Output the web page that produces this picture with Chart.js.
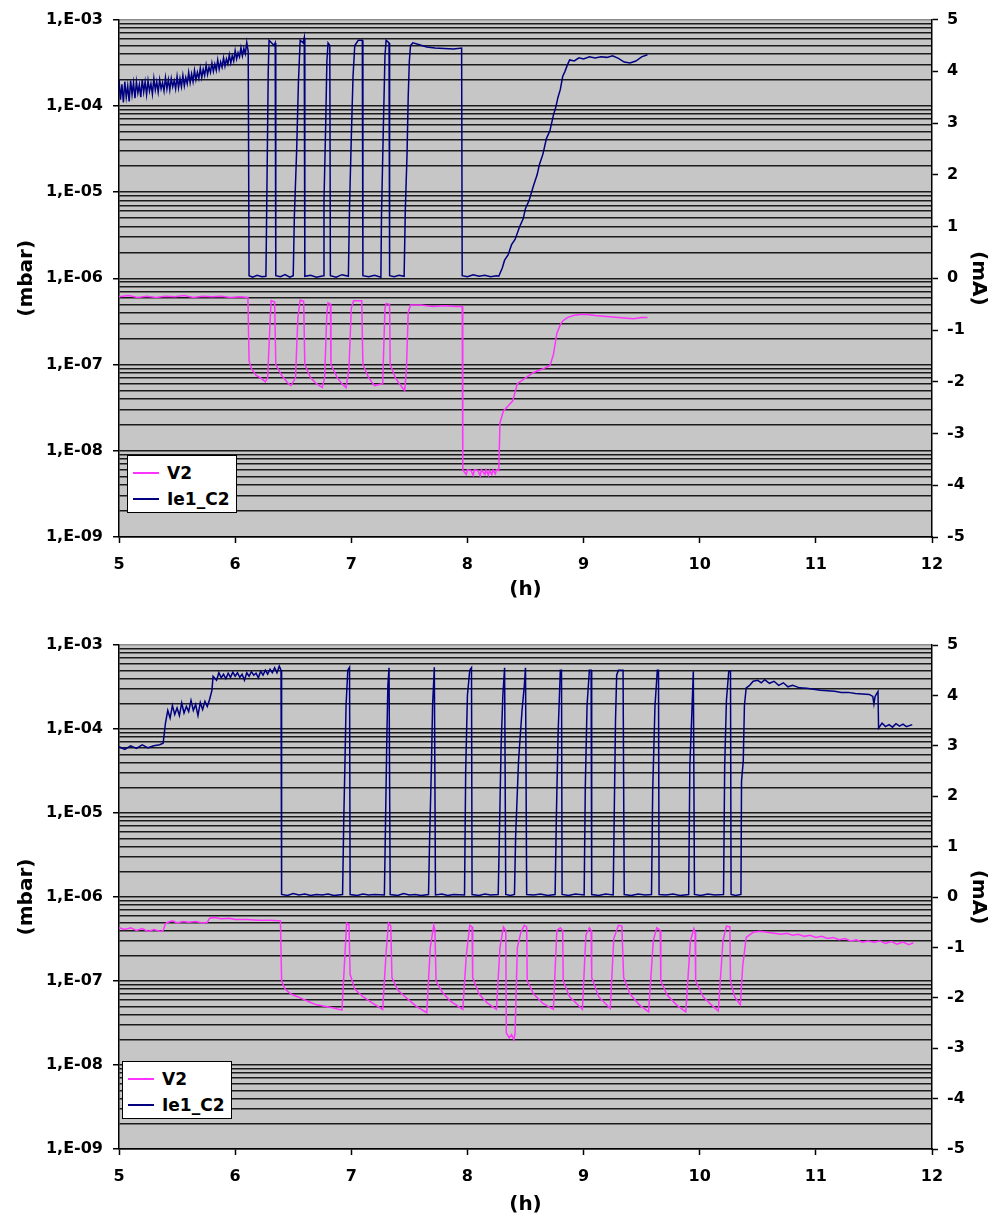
<!DOCTYPE html>
<html>
<head>
<meta charset="utf-8">
<title>V2 / Ie1_C2</title>
<script src="https://cdn.jsdelivr.net/npm/chart.js@4.4.1/dist/chart.umd.min.js"></script>
<style>
  body { margin: 0; background: #fff; }
  .panel { position: absolute; left: 0; width: 997px; height: 610px; }
  .legend {
    position: absolute; box-sizing: border-box; width: 110px; height: 58px;
    background: #fff; border: 1px solid #000; padding: 4px 0 0 5px;
    font: bold 17px "DejaVu Sans", sans-serif; color: #000;
  }
  .legend .row { height: 26px; display: flex; align-items: center; }
  .legend .swatch { width: 26px; height: 2px; margin-right: 8px; }
</style>
</head>
<body>
<div class="panel" style="top:0">
  <canvas id="topChart" width="997" height="610"></canvas>
  <div class="legend" style="left:127px; top:455px;">
    <div class="row"><span class="swatch" style="background:#FF33FF"></span>V2</div>
    <div class="row"><span class="swatch" style="background:#000080"></span>Ie1_C2</div>
  </div>
</div>
<div class="panel" style="top:610px">
  <canvas id="bottomChart" width="997" height="610"></canvas>
  <div class="legend" style="left:122px; top:451px;">
    <div class="row"><span class="swatch" style="background:#FF33FF"></span>V2</div>
    <div class="row"><span class="swatch" style="background:#000080"></span>Ie1_C2</div>
  </div>
</div>

<script>
// ------------------------------------------------------------
// Data: [hours, value]
// V2 in mbar (left, log), Ie1_C2 in mA (right, linear)
// ------------------------------------------------------------
const decadeExps = [-9, -8, -7, -6, -5, -4, -3];
const significands = [1, 2, 3, 4, 5, 6, 7, 8, 9];
const hourTicks = [5, 6, 7, 8, 9, 10, 11, 12];

const topV2 = [
  [5.00, 6.1e-7], [5.08, 6.3e-7], [5.16, 6.0e-7], [5.24, 6.2e-7], [5.32, 6.0e-7], [5.40, 6.2e-7],
  [5.48, 6.1e-7], [5.56, 6.3e-7], [5.64, 6.0e-7], [5.72, 6.2e-7], [5.80, 6.1e-7], [5.88, 6.2e-7],
  [5.96, 6.0e-7], [6.04, 6.1e-7], [6.11, 6.0e-7],
  [6.12, 1.1e-7], [6.14, 9e-8], [6.18, 7.5e-8], [6.22, 7e-8], [6.26, 6.3e-8], [6.28, 7e-8],
  [6.30, 3e-7], [6.31, 5.5e-7], [6.34, 5.3e-7],
  [6.35, 1.0e-7], [6.40, 7.5e-8], [6.45, 6.2e-8], [6.48, 5.7e-8], [6.52, 7e-8], [6.54, 3.5e-7],
  [6.56, 5.6e-7], [6.59, 5.4e-7],
  [6.60, 1.0e-7], [6.65, 7e-8], [6.70, 6e-8], [6.75, 5.4e-8], [6.77, 7e-8], [6.79, 4e-7],
  [6.80, 5.2e-7], [6.82, 5.0e-7],
  [6.825, 1.0e-7], [6.88, 7e-8], [6.92, 6e-8], [6.955, 5.4e-8], [6.98, 9e-8], [7.00, 4.5e-7],
  [7.02, 5.5e-7], [7.09, 5.5e-7],
  [7.10, 1.0e-7], [7.15, 7e-8], [7.20, 5.7e-8], [7.27, 6e-8], [7.29, 4.5e-7], [7.30, 5.1e-7], [7.33, 5.0e-7],
  [7.335, 1.0e-7], [7.38, 7e-8], [7.43, 5.6e-8], [7.46, 5.0e-8], [7.475, 9e-8], [7.49, 4e-7],
  [7.51, 4.9e-7], [7.60, 4.9e-7], [7.70, 4.7e-7], [7.80, 4.8e-7], [7.90, 4.7e-7], [7.955, 4.7e-7],
  [7.96, 6.0e-9], [7.99, 5.3e-9], [8.00, 6.0e-9], [8.03, 5.9e-9], [8.05, 5.2e-9], [8.06, 6.0e-9],
  [8.09, 5.9e-9], [8.11, 5.1e-9], [8.12, 6.0e-9], [8.15, 5.3e-9], [8.16, 6.0e-9], [8.18, 5.2e-9],
  [8.19, 5.9e-9], [8.21, 5.3e-9], [8.22, 6.0e-9], [8.24, 5.4e-9], [8.25, 6.0e-9], [8.27, 5.9e-9],
  [8.28, 2.1e-8], [8.31, 2.9e-8], [8.35, 3.3e-8], [8.39, 3.8e-8], [8.43, 6e-8], [8.50, 7e-8],
  [8.57, 8.1e-8], [8.64, 8.8e-8], [8.71, 9.7e-8], [8.74, 1.3e-7], [8.77, 2.3e-7], [8.80, 2.9e-7],
  [8.82, 3.2e-7], [8.86, 3.5e-7], [8.91, 3.7e-7], [8.97, 3.8e-7], [9.03, 3.8e-7], [9.10, 3.7e-7],
  [9.20, 3.6e-7], [9.30, 3.5e-7], [9.43, 3.4e-7], [9.50, 3.5e-7], [9.55, 3.5e-7],
];

const topIe = [
  [5.0000, 3.85], [5.0125, 3.45], [5.0250, 3.75], [5.0375, 3.40], [5.0500, 3.80], [5.0625, 3.50],
  [5.0750, 3.72], [5.0875, 3.42], [5.1000, 3.82], [5.1125, 3.55], [5.1250, 3.78], [5.1375, 3.48],
  [5.1500, 3.80], [5.1625, 3.58], [5.1750, 3.74], [5.1875, 3.50], [5.2000, 3.84], [5.2125, 3.60],
  [5.2250, 3.80], [5.2375, 3.55], [5.2500, 3.82], [5.2625, 3.62], [5.2750, 3.76], [5.2875, 3.56],
  [5.3000, 3.86], [5.3125, 3.64], [5.3250, 3.80], [5.3375, 3.60], [5.3500, 3.84], [5.3625, 3.66],
  [5.3750, 3.78], [5.3875, 3.62], [5.4000, 3.88], [5.4125, 3.66], [5.4250, 3.84], [5.4375, 3.64],
  [5.4500, 3.86], [5.4625, 3.70], [5.4750, 3.82], [5.4875, 3.66], [5.5000, 3.90], [5.5125, 3.68],
  [5.5250, 3.86], [5.5375, 3.70], [5.5500, 3.92], [5.5625, 3.72], [5.5750, 3.88], [5.5875, 3.76],
  [5.6000, 3.98], [5.6125, 3.78], [5.6250, 3.95], [5.6375, 3.80], [5.6500, 4.02], [5.6625, 3.84],
  [5.6750, 3.98], [5.6875, 3.86], [5.7000, 4.06], [5.7125, 3.88], [5.7250, 4.04], [5.7375, 3.92],
  [5.7500, 4.12], [5.7625, 3.94], [5.7750, 4.08], [5.7875, 3.98], [5.8000, 4.16], [5.8125, 4.00],
  [5.8250, 4.14], [5.8375, 4.02], [5.8500, 4.22], [5.8625, 4.04], [5.8750, 4.18], [5.8875, 4.08],
  [5.9000, 4.26], [5.9125, 4.10], [5.9250, 4.24], [5.9375, 4.14], [5.9500, 4.32], [5.9625, 4.16],
  [5.9750, 4.30], [5.9875, 4.20], [6.0000, 4.40], [6.0125, 4.24], [6.0250, 4.36], [6.0375, 4.28],
  [6.0500, 4.46], [6.0625, 4.30], [6.0750, 4.44], [6.0875, 4.34], [6.1000, 4.56], [6.1125, 4.38],
  [6.120, 0.05], [6.15, 0.02], [6.19, 0.06], [6.23, 0.03], [6.265, 0.04],
  [6.270, 1.0], [6.278, 2.6], [6.285, 4.0], [6.292, 4.6], [6.335, 4.5], [6.345, 4.55],
  [6.350, 0.05], [6.39, 0.03], [6.43, 0.07], [6.47, 0.02], [6.50, 0.05],
  [6.51, 1.2], [6.53, 2.5], [6.545, 3.8], [6.56, 4.6], [6.585, 4.55], [6.595, 4.65],
  [6.600, 0.04], [6.65, 0.06], [6.70, 0.02], [6.76, 0.05],
  [6.765, 1.5], [6.78, 3.0], [6.79, 4.2], [6.80, 4.55], [6.815, 4.5],
  [6.820, 0.05], [6.87, 0.02], [6.92, 0.07], [6.975, 0.04],
  [6.985, 1.4], [7.00, 2.7], [7.015, 3.9], [7.03, 4.5], [7.06, 4.6], [7.095, 4.6],
  [7.100, 0.05], [7.15, 0.03], [7.20, 0.06], [7.255, 0.02],
  [7.26, 1.2], [7.275, 2.8], [7.29, 4.3], [7.30, 4.6], [7.325, 4.55],
  [7.330, 0.05], [7.37, 0.03], [7.41, 0.06], [7.455, 0.04],
  [7.465, 1.3], [7.48, 2.4], [7.49, 3.5], [7.50, 4.2], [7.51, 4.5], [7.53, 4.55], [7.58, 4.52],
  [7.65, 4.47], [7.72, 4.45], [7.80, 4.44], [7.88, 4.43], [7.95, 4.45],
  [7.955, 0.05], [8.00, 0.03], [8.05, 0.07], [8.10, 0.04], [8.15, 0.06], [8.20, 0.03], [8.25, 0.05], [8.27, 0.04],
  [8.30, 0.2], [8.32, 0.35], [8.35, 0.45], [8.38, 0.65], [8.41, 0.75], [8.45, 1.0], [8.48, 1.15],
  [8.50, 1.35], [8.53, 1.5], [8.57, 1.8], [8.60, 2.0], [8.62, 2.2], [8.65, 2.4], [8.68, 2.7],
  [8.71, 2.85], [8.74, 3.15], [8.76, 3.3], [8.78, 3.5], [8.80, 3.65], [8.82, 3.9], [8.84, 4.0],
  [8.86, 4.12], [8.88, 4.22],
  [8.92, 4.2], [8.96, 4.26], [9.00, 4.24], [9.05, 4.28], [9.10, 4.26], [9.15, 4.28], [9.20, 4.27],
  [9.25, 4.3], [9.30, 4.25], [9.35, 4.18], [9.40, 4.16], [9.45, 4.2], [9.50, 4.28], [9.55, 4.32],
];

const bottomV2 = [
  [5.00, 4.3e-7], [5.05, 4.1e-7], [5.10, 4.3e-7], [5.15, 4.0e-7], [5.20, 4.2e-7], [5.25, 3.9e-7],
  [5.30, 4.1e-7], [5.36, 3.9e-7], [5.38, 4.0e-7], [5.40, 4.8e-7], [5.42, 5.0e-7], [5.46, 5.2e-7],
  [5.50, 4.9e-7], [5.55, 5.1e-7], [5.60, 5.0e-7], [5.66, 5.1e-7], [5.72, 4.9e-7], [5.76, 5.0e-7],
  [5.78, 5.6e-7], [5.82, 5.7e-7], [5.88, 5.5e-7], [5.95, 5.6e-7], [6.00, 5.4e-7], [6.10, 5.4e-7],
  [6.20, 5.3e-7], [6.30, 5.3e-7], [6.39, 5.2e-7],
  [6.40, 1.0e-7], [6.43, 8.0e-8], [6.48, 7.0e-8], [6.56, 6.3e-8], [6.63, 5.7e-8], [6.70, 5.2e-8],
  [6.77, 5.0e-8], [6.84, 4.8e-8], [6.92, 4.5e-8],
  [6.94, 1.5e-7], [6.96, 4.9e-7], [6.98, 4.7e-7],
  [6.99, 1.2e-7], [7.03, 8.0e-8], [7.10, 6.5e-8], [7.18, 5.5e-8], [7.27, 4.6e-8],
  [7.30, 2.2e-7], [7.32, 4.9e-7], [7.34, 4.5e-7],
  [7.35, 1.1e-7], [7.40, 7.8e-8], [7.48, 6.2e-8], [7.56, 5.0e-8], [7.65, 4.2e-8],
  [7.68, 2.5e-7], [7.71, 4.6e-7], [7.72, 4.0e-7],
  [7.73, 1.0e-7], [7.78, 7.5e-8], [7.85, 5.8e-8], [7.96, 4.6e-8],
  [7.99, 2.0e-7], [8.02, 4.6e-7], [8.04, 4.4e-7],
  [8.045, 1.1e-7], [8.10, 7.0e-8], [8.17, 5.5e-8], [8.25, 4.6e-8],
  [8.28, 2.5e-7], [8.31, 4.4e-7], [8.33, 4.0e-7],
  [8.335, 2.4e-8], [8.36, 2.1e-8], [8.38, 2.3e-8], [8.40, 2.0e-8], [8.41, 2.4e-8],
  [8.43, 2.5e-7], [8.46, 3.8e-7], [8.49, 4.6e-7], [8.51, 4.4e-7],
  [8.515, 1.0e-7], [8.57, 7.0e-8], [8.65, 5.4e-8], [8.74, 4.6e-8],
  [8.77, 4.0e-7], [8.80, 4.3e-7], [8.82, 4.0e-7],
  [8.825, 1.0e-7], [8.88, 6.5e-8], [8.99, 4.6e-8],
  [9.02, 3.5e-7], [9.05, 4.3e-7], [9.065, 4.0e-7],
  [9.07, 1.1e-7], [9.13, 6.5e-8], [9.23, 4.7e-8],
  [9.26, 3.2e-7], [9.30, 4.6e-7], [9.33, 4.5e-7],
  [9.345, 1.1e-7], [9.40, 7.0e-8], [9.48, 5.2e-8], [9.56, 4.3e-8],
  [9.60, 3.0e-7], [9.63, 4.3e-7], [9.66, 4.0e-7],
  [9.665, 1.0e-7], [9.72, 6.8e-8], [9.80, 5.2e-8], [9.88, 4.3e-8],
  [9.92, 3.0e-7], [9.95, 4.2e-7], [9.96, 3.8e-7],
  [9.965, 1.0e-7], [10.03, 6.5e-8], [10.10, 5.2e-8], [10.16, 4.4e-8],
  [10.20, 3.0e-7], [10.23, 4.5e-7], [10.26, 4.4e-7],
  [10.265, 1.0e-7], [10.30, 6.5e-8], [10.35, 5.2e-8],
  [10.37, 1.5e-7], [10.40, 3.3e-7], [10.46, 3.8e-7], [10.52, 3.9e-7], [10.58, 3.8e-7],
  [10.64, 3.7e-7], [10.70, 3.6e-7], [10.75, 3.7e-7], [10.80, 3.5e-7], [10.85, 3.6e-7],
  [10.90, 3.4e-7], [10.95, 3.5e-7], [11.00, 3.3e-7], [11.05, 3.4e-7], [11.10, 3.2e-7],
  [11.15, 3.3e-7], [11.20, 3.1e-7], [11.25, 3.2e-7], [11.30, 3.0e-7], [11.35, 3.1e-7],
  [11.40, 2.9e-7], [11.45, 3.0e-7], [11.50, 2.9e-7], [11.55, 3.0e-7], [11.60, 2.8e-7],
  [11.65, 2.95e-7], [11.70, 2.75e-7], [11.75, 2.9e-7], [11.80, 2.7e-7], [11.84, 2.85e-7],
];

const bottomIe = [
  [5.00, 2.98], [5.05, 2.93], [5.10, 3.00], [5.15, 2.95], [5.20, 3.02], [5.25, 2.96],
  [5.30, 3.00], [5.35, 3.02], [5.38, 3.05], [5.40, 3.45], [5.42, 3.70], [5.44, 3.55],
  [5.46, 3.80], [5.48, 3.62], [5.50, 3.75], [5.52, 3.60], [5.54, 3.85], [5.56, 3.65],
  [5.58, 3.78], [5.60, 3.68], [5.62, 3.90], [5.64, 3.70], [5.66, 3.82], [5.68, 3.60],
  [5.70, 3.86], [5.72, 3.72], [5.74, 3.88], [5.76, 3.78], [5.78, 3.92], [5.80, 4.10],
  [5.81, 4.38], [5.84, 4.30], [5.86, 4.45], [5.88, 4.35], [5.90, 4.42], [5.92, 4.33],
  [5.94, 4.44], [5.96, 4.36], [5.98, 4.46], [6.00, 4.38], [6.02, 4.45], [6.04, 4.36],
  [6.06, 4.42], [6.08, 4.30], [6.10, 4.45], [6.12, 4.38], [6.14, 4.47], [6.16, 4.40],
  [6.18, 4.44], [6.20, 4.35], [6.22, 4.48], [6.24, 4.40], [6.26, 4.50], [6.28, 4.42],
  [6.30, 4.52], [6.32, 4.45], [6.34, 4.55], [6.36, 4.45], [6.38, 4.58], [6.395, 4.50],
  [6.40, 0.05], [6.45, 0.03], [6.50, 0.07], [6.55, 0.04], [6.60, 0.06], [6.65, 0.03],
  [6.70, 0.05], [6.75, 0.04], [6.80, 0.06], [6.85, 0.03], [6.925, 0.05],
  [6.935, 1.5], [6.945, 2.6], [6.955, 3.8], [6.97, 4.5], [6.985, 4.56],
  [6.99, 0.05], [7.05, 0.03], [7.10, 0.06], [7.15, 0.04], [7.20, 0.05], [7.285, 0.04],
  [7.295, 1.5], [7.305, 3.0], [7.315, 4.2], [7.325, 4.55],
  [7.335, 0.05], [7.40, 0.03], [7.45, 0.07], [7.50, 0.04], [7.55, 0.05], [7.60, 0.03], [7.665, 0.05],
  [7.675, 1.2], [7.69, 2.6], [7.70, 3.8], [7.715, 4.56],
  [7.725, 0.04], [7.78, 0.06], [7.83, 0.03], [7.88, 0.05], [7.975, 0.04],
  [7.985, 2.5], [8.00, 4.0], [8.02, 4.5], [8.035, 4.55],
  [8.04, 0.05], [8.10, 0.03], [8.15, 0.06], [8.20, 0.04], [8.265, 0.05],
  [8.275, 1.2], [8.29, 3.0], [8.305, 4.0], [8.32, 4.55],
  [8.33, 0.05], [8.37, 0.03], [8.405, 0.05],
  [8.415, 1.2], [8.44, 2.7], [8.47, 3.7], [8.49, 4.2], [8.50, 4.55],
  [8.51, 0.05], [8.57, 0.04], [8.63, 0.06], [8.69, 0.03], [8.755, 0.05],
  [8.765, 1.5], [8.78, 3.2], [8.80, 4.5], [8.81, 4.5],
  [8.815, 0.05], [8.87, 0.03], [8.93, 0.06], [9.005, 0.04],
  [9.015, 2.2], [9.03, 3.8], [9.05, 4.5], [9.065, 4.5],
  [9.07, 0.05], [9.13, 0.03], [9.19, 0.06], [9.255, 0.04],
  [9.265, 1.8], [9.275, 3.5], [9.285, 4.4], [9.30, 4.5], [9.34, 4.5],
  [9.35, 0.05], [9.41, 0.03], [9.47, 0.06], [9.53, 0.04], [9.585, 0.05],
  [9.595, 2.1], [9.615, 3.8], [9.635, 4.5], [9.645, 4.5],
  [9.65, 0.05], [9.71, 0.04], [9.77, 0.06], [9.83, 0.03], [9.905, 0.05],
  [9.915, 2.6], [9.93, 3.5], [9.945, 4.48],
  [9.955, 0.05], [10.01, 0.03], [10.07, 0.06], [10.13, 0.04], [10.205, 0.05],
  [10.215, 2.6], [10.23, 3.9], [10.25, 4.48], [10.265, 4.48],
  [10.27, 0.05], [10.31, 0.03], [10.355, 0.05],
  [10.36, 2.3], [10.375, 2.7], [10.385, 3.8], [10.40, 4.15], [10.43, 4.2], [10.46, 4.28],
  [10.50, 4.3], [10.53, 4.25], [10.56, 4.31], [10.60, 4.24], [10.64, 4.28], [10.68, 4.2],
  [10.72, 4.25], [10.76, 4.17], [10.80, 4.2], [10.86, 4.15], [10.92, 4.14], [10.98, 4.12],
  [11.04, 4.1], [11.10, 4.09], [11.16, 4.08], [11.22, 4.06], [11.28, 4.06], [11.34, 4.04],
  [11.40, 4.03], [11.46, 4.02], [11.49, 3.98], [11.50, 3.83], [11.51, 3.98], [11.535, 4.08],
  [11.54, 3.35], [11.57, 3.45], [11.60, 3.38], [11.63, 3.42], [11.66, 3.37], [11.69, 3.44],
  [11.72, 3.39], [11.75, 3.43], [11.78, 3.38], [11.83, 3.42],
];

// ------------------------------------------------------------
// Chart setup
// ------------------------------------------------------------
const V2_COLOR = '#FF33FF';
const IE_COLOR = '#000080';
const tickFont = { family: '"DejaVu Sans", sans-serif', weight: 'bold', size: 16 };
const titleFont = { family: '"DejaVu Sans", sans-serif', weight: 'bold', size: 20 };

const logTicks = [];
decadeExps.forEach((e, i) => {
  if (i === decadeExps.length - 1) { logTicks.push(parseFloat(`1e${e}`)); return; }
  significands.forEach(s => logTicks.push(parseFloat(`${s}e${e}`)));
});

function isDecade(v) {
  const e = Math.round(Math.log10(v));
  return Math.abs(v / Math.pow(10, e) - 1) < 1e-6;
}

function decadeLabel(v) {
  if (!isDecade(v)) return '';
  const e = Math.round(Math.log10(v));
  return `1,E-${String(-e).padStart(2, '0')}`;
}

const toPoints = (pairs) => pairs.map(([x, y]) => ({ x, y }));

const plotBg = {
  id: 'plotBg',
  beforeDraw(chart) {
    const { ctx, chartArea: a } = chart;
    ctx.save();
    ctx.fillStyle = '#C6C6C6';
    ctx.fillRect(a.left, a.top, a.right - a.left, a.bottom - a.top);
    ctx.restore();
  },
};

function makeChart(canvasId, v2, ie, padTop, xHeight, xTitlePad) {
  return new Chart(document.getElementById(canvasId), {
    type: 'scatter',
    data: {
      datasets: [
        { label: 'V2', data: toPoints(v2), yAxisID: 'yP', borderColor: V2_COLOR, borderWidth: 1.5,
          pointRadius: 0, showLine: true, tension: 0 },
        { label: 'Ie1_C2', data: toPoints(ie), yAxisID: 'yI', borderColor: IE_COLOR, borderWidth: 1.5,
          pointRadius: 0, showLine: true, tension: 0 },
      ],
    },
    options: {
      responsive: false,
      devicePixelRatio: 1,
      animation: false,
      layout: { padding: { top: padTop, left: 0, right: 0, bottom: 0 } },
      plugins: { legend: { display: false }, tooltip: { enabled: false } },
      scales: {
        x: {
          type: 'linear', position: 'bottom',
          min: hourTicks[0], max: hourTicks[hourTicks.length - 1],
          afterFit: (s) => { s.height = xHeight; },
          ticks: { stepSize: 1, font: tickFont, color: '#000', padding: 12, maxRotation: 0 },
          grid: { drawOnChartArea: false, tickLength: 6, tickColor: '#000', tickWidth: 1.5 },
          border: { color: '#000', width: 1.5 },
          title: { display: true, text: '(h)', font: titleFont, color: '#000', padding: { top: 0, bottom: xTitlePad } },
        },
        yP: {
          type: 'logarithmic', position: 'left', min: 1e-9, max: 1e-3,
          afterFit: (s) => { s.width = 119; },
          afterBuildTicks: (s) => { s.ticks = logTicks.map(v => ({ value: v })); },
          ticks: { autoSkip: false, font: tickFont, color: '#000', padding: 10, callback: (v) => decadeLabel(v) },
          grid: {
            color: (c) => (c.tick && Math.abs(c.tick.value - 1e-3) < 1e-12 ? '#8c8c8c' : '#1a1a1a'),
            lineWidth: 1.5, tickLength: 6, tickWidth: 1.5,
            tickColor: (c) => (c.tick && isDecade(c.tick.value) ? '#000' : 'rgba(0,0,0,0)'),
          },
          border: { color: '#000', width: 1.5 },
          title: { display: true, text: '(mbar)', font: titleFont, color: '#000', padding: { top: 15, bottom: 0 } },
        },
        yI: {
          type: 'linear', position: 'right', min: -5, max: 5,
          afterFit: (s) => { s.width = 65; },
          ticks: { stepSize: 1, font: tickFont, color: '#000', padding: 9 },
          grid: { drawOnChartArea: false, tickLength: 6, tickColor: '#000', tickWidth: 1.5 },
          border: { color: '#000', width: 1.5 },
          title: { display: true, text: '(mA)', font: titleFont, color: '#000', padding: { top: 7, bottom: 0 } },
        },
      },
    },
    plugins: [plotBg],
  });
}

makeChart('topChart', topV2, topIe, 18, 73, 8);
makeChart('bottomChart', bottomV2, bottomIe, 35, 71, 3);
</script>
</body>
</html>
